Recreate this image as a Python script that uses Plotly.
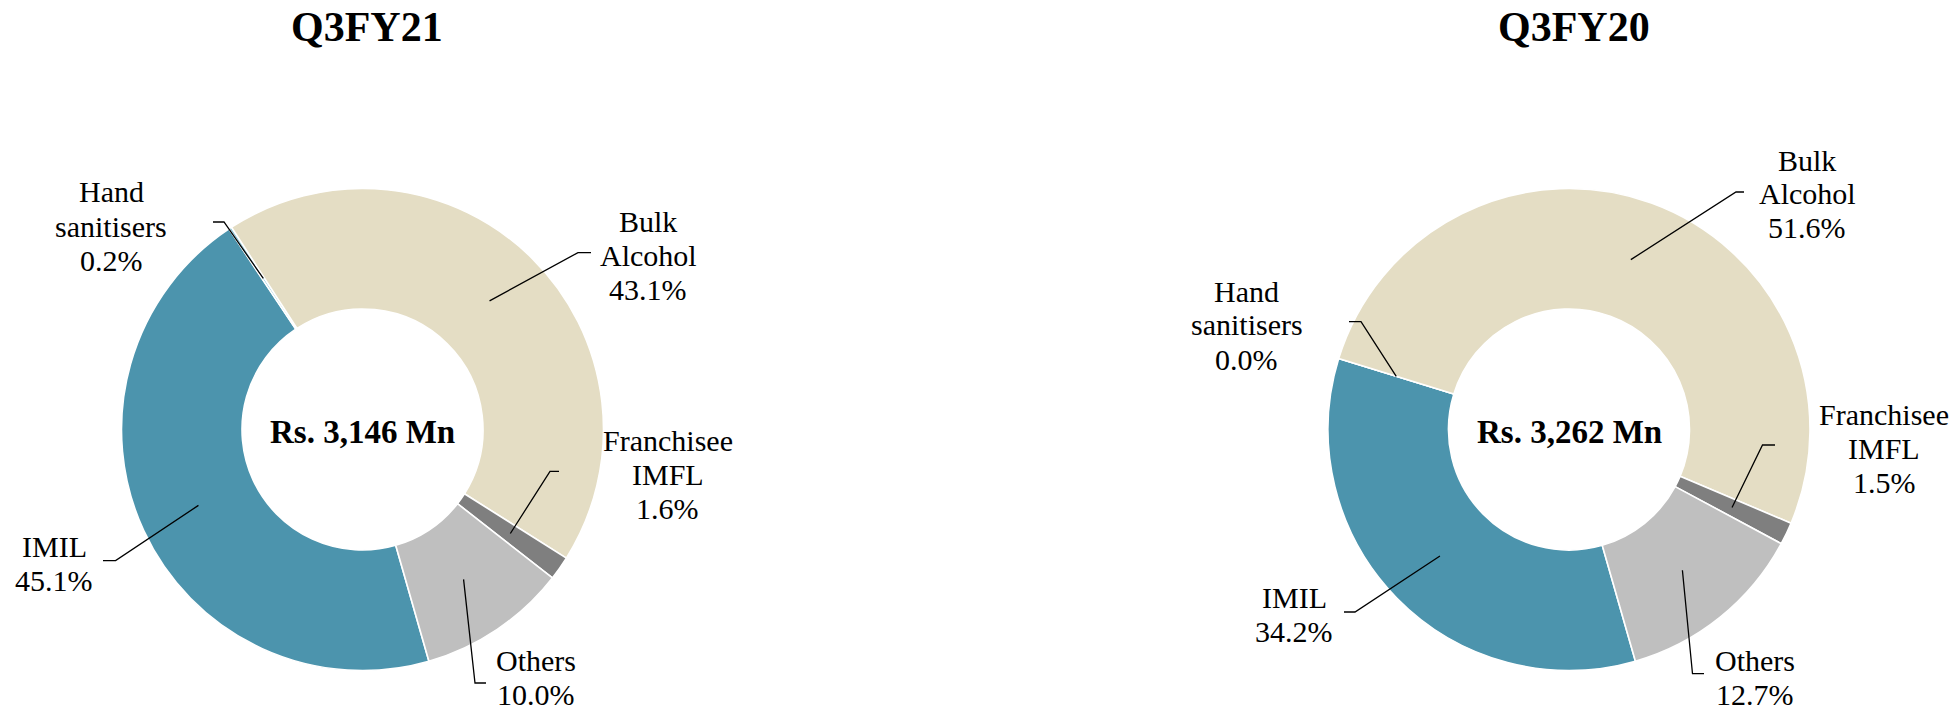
import math
import plotly.graph_objects as go

# ---------------- data ----------------
categories = ["IMIL", "Hand sanitisers", "Bulk Alcohol", "Franchisee IMFL", "Others"]
label_lines = [["IMIL"], ["Hand", "sanitisers"], ["Bulk", "Alcohol"], ["Franchisee", "IMFL"], ["Others"]]
q3fy21_values = [45.1, 0.2, 43.1, 1.6, 10.0]
q3fy20_values = [34.2, 0.0, 51.6, 1.5, 12.7]
chart_titles = ["Q3FY21", "Q3FY20"]
center_totals = ["Rs. 3,146 Mn", "Rs. 3,262 Mn"]

# ---------------- style / layout ----------------
colors = ["#4C94AD", "#8CC4D6", "#E4DDC4", "#7F7F7F", "#BFBFBF"]
W, H = 1960, 714
R = 241
HOLE = 0.5
ROTATION = 164
FONT = "Liberation Serif"
centers = [(362.5, 429.5), (1569.0, 429.5)]
title_pos = [(367, 27), (1574, 27)]
# per chart, per category: (elbow_x, elbow_y, end_x, label_cx, label_cy)
label_layout = [
    [(115.6, 560.6, 103, 54, 563), (224, 222, 213, 111, 226), (578, 252.6, 591, 648, 255),
     (550, 471.4, 559, 667.5, 474), (475, 683, 486, 536, 677)],
    [(1355, 612, 1344, 1294, 614), (1361, 321.7, 1349, 1246.6, 325), (1736, 192, 1744, 1807, 194),
     (1762.5, 445, 1775, 1884, 448), (1692.5, 673.7, 1704, 1755, 677)],
]
LINE_GAP = 34


def px(x):
    return x / W


def py(y):
    return 1 - y / H


fig = go.Figure()
annotations = []
shapes = []

for ci, values in enumerate([q3fy21_values, q3fy20_values]):
    cx, cy = centers[ci]
    fig.add_trace(go.Pie(
        labels=categories,
        values=values,
        sort=False,
        direction="clockwise",
        rotation=ROTATION,
        hole=HOLE,
        textinfo="none",
        marker=dict(colors=colors, line=dict(color="white", width=1.6)),
        domain=dict(x=[px(cx - R), px(cx + R)], y=[py(cy + R), py(cy - R)]),
        showlegend=False,
        name=chart_titles[ci],
    ))
    # title
    tx, ty = title_pos[ci]
    annotations.append(dict(x=px(tx), y=py(ty), xref="paper", yref="paper", text="<b>%s</b>" % chart_titles[ci],
                            showarrow=False, font=dict(family=FONT, size=42, color="black"),
                            xanchor="center", yanchor="middle"))
    # center total
    annotations.append(dict(x=px(cx), y=py(cy + 2), xref="paper", yref="paper", text="<b>%s</b>" % center_totals[ci],
                            showarrow=False, font=dict(family=FONT, size=33, color="black"),
                            xanchor="center", yanchor="middle"))
    # labels with leader lines
    total = sum(values)
    cum = 0.0
    rm = R * (1 + HOLE) / 2
    for k, v in enumerate(values):
        ang = math.radians(ROTATION + 360.0 * (cum + v / 2.0) / total)
        cum += v
        ax = cx + rm * math.sin(ang)
        ay = cy - rm * math.cos(ang)
        ex, ey, endx, lcx, lcy = label_layout[ci][k]
        shapes.append(dict(type="path", xref="paper", yref="paper",
                           path="M %f,%f L %f,%f L %f,%f" % (px(ax), py(ay), px(ex), py(ey), px(endx), py(ey)),
                           line=dict(color="black", width=1.3)))
        lines = label_lines[k] + ["%.1f%%" % v]
        n = len(lines)
        for li, txt in enumerate(lines):
            ly = lcy + (li - (n - 1) / 2.0) * LINE_GAP
            annotations.append(dict(x=px(lcx), y=py(ly), xref="paper", yref="paper", text=txt,
                                    showarrow=False, font=dict(family=FONT, size=30, color="black"),
                                    xanchor="center", yanchor="middle"))

fig.update_layout(
    width=W, height=H,
    margin=dict(l=0, r=0, t=0, b=0),
    paper_bgcolor="white", plot_bgcolor="white",
    annotations=annotations, shapes=shapes,
)

fig.write_html("out.html", config={"displayModeBar": False},
               post_script="document.body.style.margin='0';document.body.style.overflow='hidden';")
